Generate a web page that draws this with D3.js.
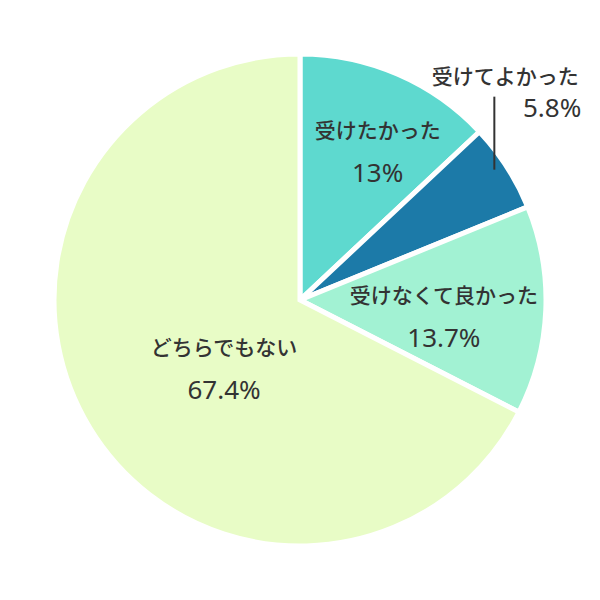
<!DOCTYPE html>
<html>
<head>
<meta charset="utf-8">
<script src="https://cdn.jsdelivr.net/npm/d3@7"></script>
<style>
  html, body { margin: 0; padding: 0; background: #fff; }
  svg text { fill: #333; }
  .cat { font-family: "Noto Sans CJK JP", sans-serif; font-size: 21px; font-weight: 500; }
  .pct { font-family: "Noto Sans", "DejaVu Sans", sans-serif; font-size: 26px; font-weight: 400; }
</style>
</head>
<body>
<div id="chart"></div>
<script>
(function() {
    "use strict";

    var categories = ["受けたかった", "受けてよかった", "受けなくて良かった", "どちらでもない"];
    var values = [13, 5.8, 13.7, 67.4];
    var valueLabels = ["13%", "5.8%", "13.7%", "67.4%"];
    var colors = ["#5ed9cf", "#1c7aa8", "#a2f2d3", "#e8fcc6"];

    var width = 600, height = 600;
    var cx = 300, cy = 300, radius = 246;

    var svg = d3.select("#chart").append("svg")
        .attr("width", width)
        .attr("height", height);

    var g = svg.append("g").attr("transform", "translate(" + cx + "," + cy + ")");

    var pie = d3.pie().sort(null).value(function(d) { return d; });
    var arcs = pie(values);

    var arc = d3.arc().innerRadius(0).outerRadius(radius);

    g.selectAll("path.slice")
        .data(arcs)
        .join("path")
        .attr("class", "slice")
        .attr("d", arc)
        .attr("fill", function(d, i) { return colors[i]; })
        .attr("stroke", "#fff")
        .attr("stroke-width", 5)
        .attr("stroke-linejoin", "miter");

    // inside labels sit near the centroid at r=150, nudged a bit
    var labelArc = d3.arc().innerRadius(150).outerRadius(150);
    var nudges = [[18, -2], null, [-6, 19], [52, -1]];

    arcs.forEach(function(d, i) {
        if (!nudges[i]) return;
        var c = labelArc.centroid(d);
        var x = c[0] + nudges[i][0];
        var y = c[1] + nudges[i][1];
        var t = g.append("g").attr("transform", "translate(" + x + "," + y + ")");
        t.append("text")
            .attr("class", "cat")
            .attr("text-anchor", "middle")
            .attr("y", -22)
            .text(categories[i]);
        t.append("text")
            .attr("class", "pct")
            .attr("text-anchor", "middle")
            .attr("y", 22)
            .text(valueLabels[i]);
    });

    // small slice: label outside with a vertical leader line
    var small = arcs[1];
    var mid = (small.startAngle + small.endAngle) / 2 - 0.02;
    var lx = Math.sin(mid) * 234;
    var ly = -Math.cos(mid) * 234;
    g.append("line")
        .attr("x1", lx).attr("y1", ly)
        .attr("x2", lx).attr("y2", ly - 73)
        .attr("stroke", "#333")
        .attr("stroke-width", 2);
    g.append("text")
        .attr("class", "cat")
        .attr("x", lx + 11)
        .attr("y", ly - 86)
        .attr("text-anchor", "middle")
        .text(categories[1]);
    g.append("text")
        .attr("class", "pct")
        .attr("x", lx + 87)
        .attr("y", ly - 53)
        .attr("text-anchor", "end")
        .text(valueLabels[1]);
})();
</script>
</body>
</html>
